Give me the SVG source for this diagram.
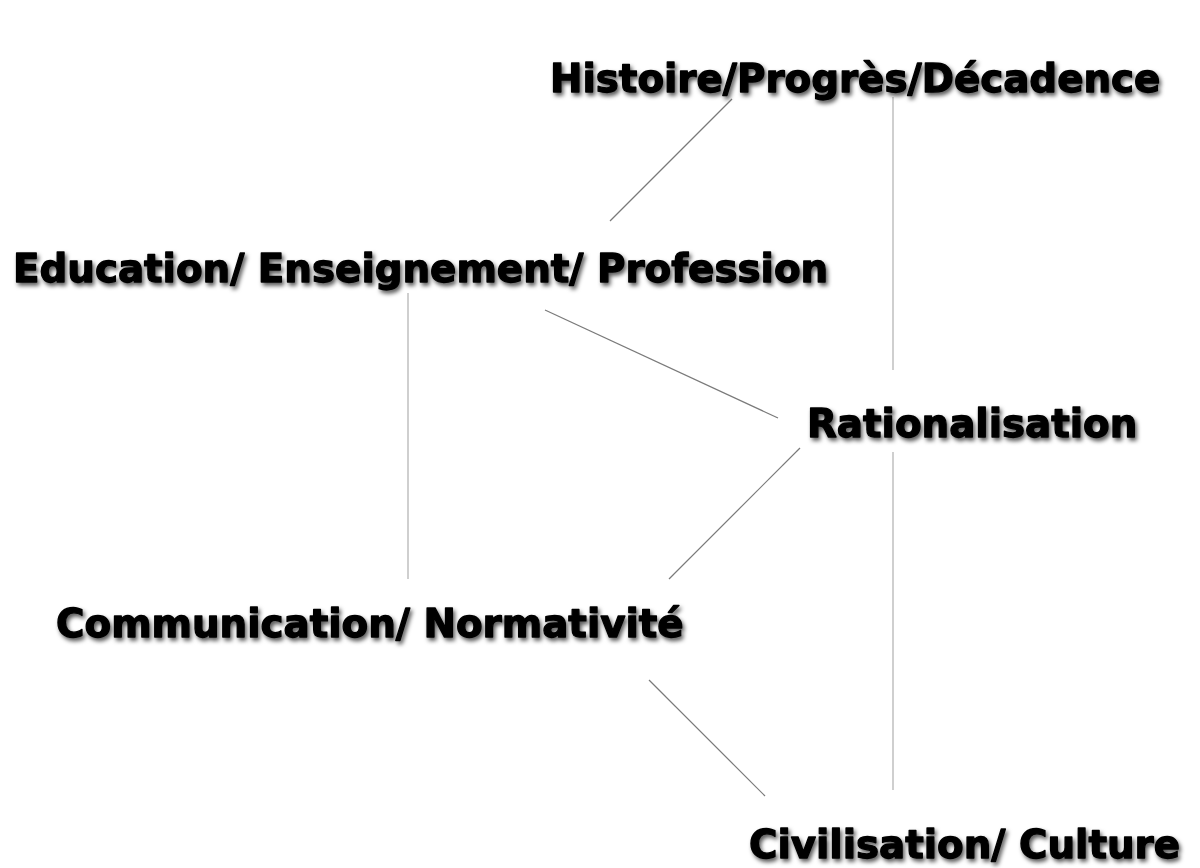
<svg xmlns="http://www.w3.org/2000/svg" width="1200" height="868" viewBox="0 0 1200 868">
  <defs>
    <filter id="shadow" x="-5%" y="-30%" width="110%" height="160%">
      <feDropShadow dx="2" dy="3" stdDeviation="2.3" flood-color="#000" flood-opacity="0.65"/>
    </filter>
    <style>
      .label { font-family: "DejaVu Sans", Verdana, sans-serif; font-weight: bold; font-size: 38.8px; fill: #000; stroke: #000; stroke-width: 1.3; stroke-linejoin: round; filter: url(#shadow); }
      .thin { stroke: #7a7a7a; stroke-width: 1.2; fill: none; }
      .pale { stroke: #cfcfcf; stroke-width: 2; fill: none; }
    </style>
  </defs>
  <rect width="1200" height="868" fill="#fff"/>

  <g id="connectors">
    <line class="thin" x1="732" y1="99" x2="610" y2="221"/>
    <line class="pale" x1="893" y1="97" x2="893" y2="370"/>
    <line class="pale" x1="408" y1="293" x2="408" y2="579"/>
    <line class="thin" x1="545" y1="310" x2="778" y2="418"/>
    <line class="thin" x1="800" y1="448" x2="669" y2="579"/>
    <line class="pale" x1="893" y1="452" x2="893" y2="790"/>
    <line class="thin" x1="649" y1="680" x2="765" y2="796"/>
  </g>

  <g id="histoire">
    <text class="label" x="550" y="92">Histoire/Progrès/Décadence</text>
  </g>
  <g id="education">
    <text class="label" x="13" y="282">Education/ Enseignement/ Profession</text>
  </g>
  <g id="rationalisation">
    <text class="label" x="807" y="437">Rationalisation</text>
  </g>
  <g id="communication">
    <text class="label" x="56" y="637">Communication/ Normativité</text>
  </g>
  <g id="civilisation">
    <text class="label" x="749" y="858">Civilisation/ Culture</text>
  </g>
</svg>
